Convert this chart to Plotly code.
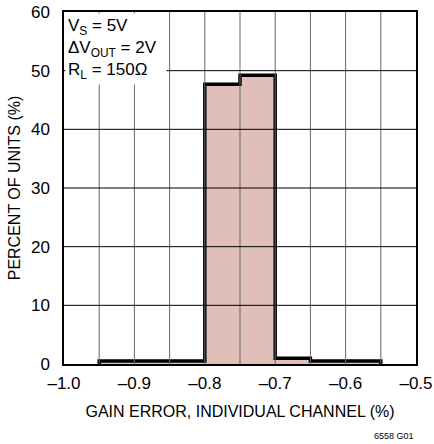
import plotly.graph_objects as go

bin_left = [-0.95, -0.90, -0.85, -0.80, -0.75, -0.70, -0.65, -0.60]
bin_width = 0.05
percent = [0.5, 0.5, 0.5, 47.7, 49.2, 1.0, 0.5, 0.5]
x_ticks = [-1.0, -0.9, -0.8, -0.7, -0.6, -0.5]
x_tick_text = ["\u20131.0", "\u20130.9", "\u20130.8", "\u20130.7", "\u20130.6", "\u20130.5"]
x_grid = [-0.95, -0.90, -0.85, -0.80, -0.75, -0.70, -0.65, -0.60, -0.55]
y_ticks = [0, 10, 20, 30, 40, 50, 60]

FONT = "Liberation Sans, Arial, sans-serif"

centers = [b + bin_width / 2 for b in bin_left]
fig = go.Figure()
fig.add_trace(go.Bar(x=centers, y=percent, width=[bin_width] * len(centers),
                     marker=dict(color="#E0BFB8", line=dict(width=0)),
                     showlegend=False, hoverinfo="skip"))
# step outline
sx = [bin_left[0]] + [b for b in bin_left] + [bin_left[-1] + bin_width, bin_left[-1] + bin_width]
sy = [0] + percent + [percent[-1], 0]
fig.add_trace(go.Scatter(x=sx, y=sy, mode="lines", line=dict(shape="hv", color="black", width=3.5),
                         showlegend=False, hoverinfo="skip"))

# gridlines drawn above the bars, as in the reference
for gx in x_grid:
    fig.add_shape(type="line", xref="x", yref="paper", x0=gx, x1=gx, y0=0, y1=1,
                  line=dict(color="#666666", width=1), layer="above")
for gy in y_ticks[1:-1]:
    fig.add_shape(type="line", xref="paper", yref="y", x0=0, x1=1, y0=gy, y1=gy,
                  line=dict(color="black", width=1), layer="above")

fig.update_layout(
    width=434, height=444,
    margin=dict(l=64, r=18, t=12, b=80, autoexpand=False),
    paper_bgcolor="white", plot_bgcolor="white",
    font=dict(family=FONT, size=16, color="black"),
    bargap=0,
    xaxis=dict(range=[-1.0, -0.5], tickvals=x_ticks, ticktext=x_tick_text,
               showgrid=False, automargin=False,
               showline=True, linecolor="black", linewidth=1.5, mirror=True,
               ticks="", zeroline=False, ticklabelstandoff=3,
               title=dict(text="GAIN ERROR, INDIVIDUAL CHANNEL (%)", font=dict(size=16), standoff=14),
               tickfont=dict(size=17)),
    yaxis=dict(range=[0, 60], tickvals=y_ticks,
               showgrid=False, automargin=False,
               showline=True, linecolor="black", linewidth=1.5, mirror=True,
               ticks="", zeroline=False, ticklabelstandoff=9,
               title=dict(text="PERCENT OF UNITS (%)", font=dict(size=16), standoff=6),
               tickfont=dict(size=17)),
)

fig.add_annotation(xref="paper", yref="paper", x=0.0, y=1.0, xanchor="left", yanchor="top",
                   text="V<sub>S</sub> = 5V<br>\u0394V<sub>OUT</sub> = 2V<br>R<sub>L</sub> = 150\u03a9",
                   align="left", showarrow=False, bgcolor="white", borderpad=2,
                   xshift=1, yshift=-1, width=96,
                   font=dict(size=17, family=FONT))
fig.add_annotation(xref="paper", yref="paper", x=1.0, y=0, xanchor="right", yanchor="middle",
                   yshift=-72, xshift=0, text="6558 G01", showarrow=False,
                   font=dict(size=9, family=FONT))

fig.write_html("out.html", config={"responsive": False, "displayModeBar": False},
               post_script="document.body.style.margin='0';document.body.style.overflow='hidden';")
